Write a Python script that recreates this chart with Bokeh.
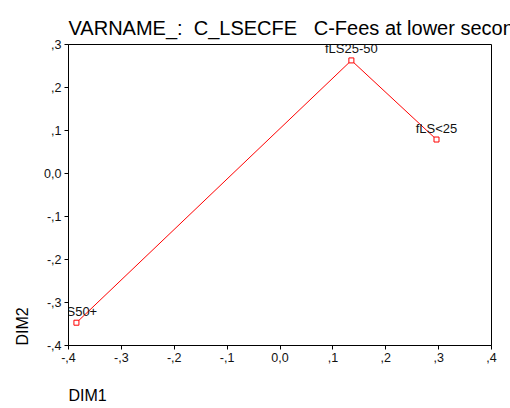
from bokeh.plotting import figure
from bokeh.models import Range1d, FixedTicker, CustomJSTickFormatter, Title, ColumnDataSource
from bokeh.core.properties import value
from bokeh.embed import file_html
from bokeh.resources import INLINE

# data
labels = ["fLS50+", "fLS25-50", "fLS<25"]
dim1 = [-0.385, 0.135, 0.296]
dim2 = [-0.347, 0.263, 0.079]

x_ticks = [-0.4, -0.3, -0.2, -0.1, 0.0, 0.1, 0.2, 0.3, 0.4]
x_tick_labels = ["-,4", "-,3", "-,2", "-,1", "0,0", ",1", ",2", ",3", ",4"]
y_ticks = [-0.4, -0.3, -0.2, -0.1, 0.0, 0.1, 0.2, 0.3]
y_tick_labels = ["-,4", "-,3", "-,2", "-,1", "0,0", ",1", ",2", ",3"]

title_text = "VARNAME_:\u00a0\u00a0C_LSECFE\u00a0\u00a0\u00a0C-Fees at lower secondary"

FONT = "Liberation Sans"

p = figure(frame_width=423, frame_height=301, output_backend="svg", toolbar_location=None,
           x_range=Range1d(-0.4, 0.4), y_range=Range1d(-0.4, 0.3),
           min_border_left=67, min_border_right=20, min_border_top=44, min_border_bottom=0)

p.title.text = title_text
p.title.text_font = FONT
p.title.text_font_size = "20px"
p.title.text_font_style = "normal"
p.title.text_color = "black"
p.title.align = "left"
p.title.standoff = 12

p.xgrid.visible = False
p.ygrid.visible = False
p.outline_line_color = "black"
p.outline_line_width = 1
p.outline_line_alpha = 1

fmt_code = """
let best = 0, bd = 1e9;
for (let i = 0; i < tv.length; i++) {
  const d = Math.abs(tv[i] - tick);
  if (d < bd) { bd = d; best = i; }
}
return tl[best];
"""
p.xaxis.ticker = FixedTicker(ticks=x_ticks)
p.yaxis.ticker = FixedTicker(ticks=y_ticks)
p.xaxis.formatter = CustomJSTickFormatter(args=dict(tv=x_ticks, tl=x_tick_labels), code=fmt_code)
p.yaxis.formatter = CustomJSTickFormatter(args=dict(tv=y_ticks, tl=y_tick_labels), code=fmt_code)

for ax in (p.xaxis[0], p.yaxis[0]):
    ax.major_label_text_font = FONT
    ax.major_label_text_font_size = "12.5px"
    ax.major_label_text_color = "#111111"
    ax.axis_line_color = "black"
    ax.major_tick_line_color = "black"
    ax.major_tick_in = 0
    ax.major_tick_out = 4
    ax.minor_tick_line_color = None
    ax.major_label_standoff = 3
p.yaxis.major_label_orientation = "horizontal"

t1 = Title(text="DIM1", align="left", text_font=FONT, text_font_size="16px",
           text_font_style="normal", text_color="black", standoff=40)
p.add_layout(t1, "below")
t2 = Title(text="DIM2", align="left", text_font=FONT, text_font_size="16px",
           text_font_style="normal", text_color="black", standoff=22)
p.add_layout(t2, "left")

src = ColumnDataSource(dict(x=dim1, y=dim2, label=labels))
p.line("x", "y", source=src, line_color="red", line_width=1)
p.scatter("x", "y", source=src, marker="square", size=5, line_color="red",
          fill_color="white", line_width=1)
p.text("x", "y", text="label", source=src, text_align="center", text_baseline="bottom",
       y_offset=-4, text_font_size="13px", text_color="#111111",
       text_font=value(FONT))

open("out.html", "w").write(file_html(p, INLINE))
